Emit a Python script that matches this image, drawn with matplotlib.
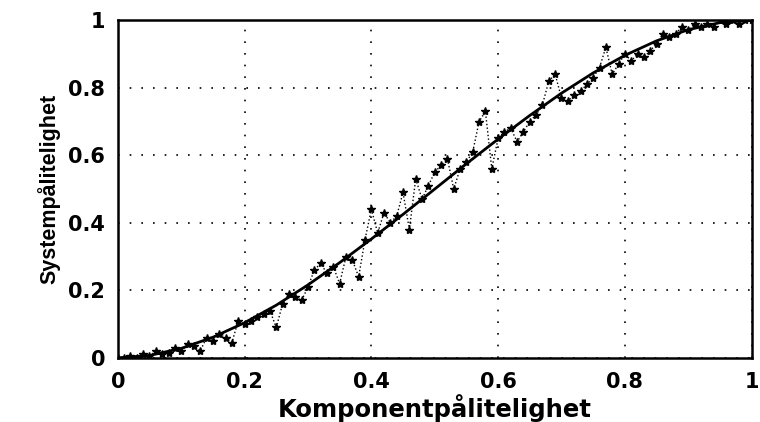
"""Simulated vs. exact system reliability as a function of component reliability."""
import matplotlib
matplotlib.use("Agg")
import matplotlib.pyplot as plt

# exact curve
p_curve = [0.0, 0.05, 0.10, 0.15, 0.20, 0.25, 0.30, 0.35, 0.40, 0.45, 0.50,
           0.55, 0.60, 0.65, 0.70, 0.75, 0.80, 0.85, 0.90, 0.95, 1.0]
r_curve = [0.0, 0.007, 0.028, 0.061, 0.104, 0.156, 0.216, 0.282, 0.352, 0.425, 0.50,
           0.575, 0.648, 0.718, 0.784, 0.844, 0.896, 0.939, 0.972, 0.993, 1.0]

# simulated estimates (one per 0.01 step)
p_sim = [i / 100 for i in range(101)]
r_sim = [0.00, 0.00, 0.005, 0.00, 0.01, 0.005, 0.02, 0.01, 0.015, 0.03,
         0.02, 0.04, 0.035, 0.02, 0.06, 0.05, 0.07, 0.06, 0.045, 0.11,
         0.10, 0.11, 0.12, 0.13, 0.14, 0.09, 0.16, 0.19, 0.18, 0.17,
         0.21, 0.26, 0.28, 0.25, 0.27, 0.22, 0.30, 0.29, 0.24, 0.35,
         0.44, 0.37, 0.43, 0.40, 0.42, 0.49, 0.38, 0.53, 0.47, 0.51,
         0.55, 0.57, 0.59, 0.50, 0.56, 0.58, 0.61, 0.70, 0.73, 0.56,
         0.65, 0.67, 0.68, 0.64, 0.67, 0.70, 0.72, 0.75, 0.82, 0.84,
         0.77, 0.76, 0.78, 0.79, 0.81, 0.83, 0.86, 0.92, 0.84, 0.87,
         0.90, 0.88, 0.90, 0.89, 0.91, 0.93, 0.96, 0.95, 0.96, 0.98,
         0.97, 0.99, 0.98, 0.99, 0.98, 1.00, 0.99, 1.00, 0.99, 1.00, 1.00]

ticks = [0, 0.2, 0.4, 0.6, 0.8, 1]
tick_labels = ["0", "0.2", "0.4", "0.6", "0.8", "1"]

fig = plt.figure(figsize=(7.6, 4.22), dpi=100)
ax = fig.add_axes([0.155, 0.152, 0.834, 0.800])

ax.plot(p_sim, r_sim, linestyle=":", color="black", linewidth=1.0,
        marker="*", markersize=6)
ax.plot(p_curve, r_curve, color="black", linewidth=2.0)

ax.set_xlim(0, 1)
ax.set_ylim(0, 1)
ax.set_xticks(ticks)
ax.set_yticks(ticks)
ax.set_xticklabels(tick_labels, family="DejaVu Sans", fontweight="bold", fontsize=15)
ax.set_yticklabels(tick_labels, family="DejaVu Sans", fontweight="bold", fontsize=15)
ax.tick_params(axis="x", direction="in", length=0, pad=10)
ax.tick_params(axis="y", direction="in", length=0, pad=9)
ax.grid(True, linestyle=(0, (1, 6)), color="black", linewidth=1.2)
for sp in ax.spines.values():
    sp.set_linewidth(1.8)

ax.set_xlabel("Komponentpålitelighet", family="DejaVu Sans", fontsize=17.5,
              fontweight="bold", labelpad=2)
ax.set_ylabel("Systempålitelighet", family="Liberation Sans", fontsize=15.5,
              fontweight="bold", labelpad=6)

fig.savefig("out.png", dpi=100)
